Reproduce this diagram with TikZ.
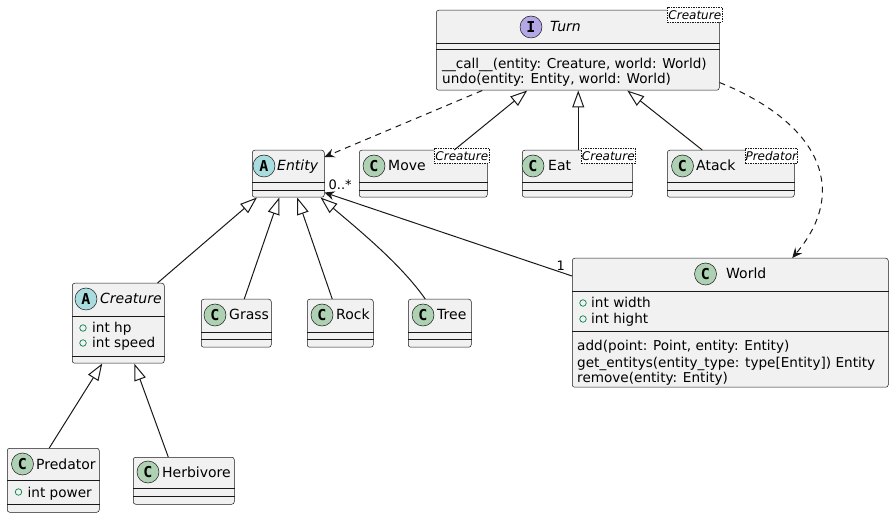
\documentclass[tikz,border=0pt]{standalone}
\usepackage{fontspec}
\setmainfont{DejaVu Sans}
\newfontfamily\spotfam{DejaVu Sans Mono}
\usetikzlibrary{arrows.meta,calc}
\definecolor{umlfill}{HTML}{F1F1F1}
\definecolor{umlline}{HTML}{181818}
\definecolor{spotC}{HTML}{ADD1B2}
\definecolor{spotA}{HTML}{A9DCDF}
\definecolor{spotI}{HTML}{B4A7E5}
\definecolor{visgreen}{HTML}{038048}
\tikzset{
 cls/.style={draw=umlline, fill=umlfill, line width=0.5pt, rounded corners=2.5pt, inner sep=0pt, anchor=north west},
 sepline/.style={draw=umlline, line width=0.5pt},
 spot/.style={circle, draw=umlline, line width=0.5pt, minimum size=22pt, inner sep=0pt, font=\spotfam\bfseries\fontsize{15}{15}\selectfont},
 title/.style={anchor=base west, inner sep=0pt, font=\fontsize{14}{16}\selectfont},
 ititle/.style={anchor=base west, inner sep=0pt, font=\fontsize{14}{16}\selectfont\itshape},
 mem/.style={anchor=base west, inner sep=0pt, font=\fontsize{13.6}{16}\selectfont},
 vis/.style={circle, draw=visgreen, line width=0.7pt, minimum size=6.5pt, inner sep=0pt},
 tmpl/.style={draw=umlline, fill=white, line width=0.6pt, dash pattern=on 1.5pt off 1pt, inner sep=0pt, anchor=north west, font=\fontsize{12}{12}\selectfont\itshape},
 edge/.style={draw=umlline, line width=1pt},
 inh/.style={edge, -{Triangle[length=17pt, width=12pt, fill=white]}},
 dep/.style={edge, dash pattern=on 6pt off 5pt, -{Stealth[length=10pt, width=9pt, inset=3.5pt]}},
 assoc/.style={edge, -{Stealth[length=10pt, width=9pt, inset=3.5pt]}},
 mult/.style={inner sep=0pt, font=\fontsize{13}{13}\selectfont},
}
\newcommand\umlsep[2]{\draw[sepline] ([yshift=-#2pt]#1.north west) -- ([yshift=-#2pt]#1.north east);}
\begin{document}
\begin{tikzpicture}[x=1pt,y=-1pt]
\useasboundingbox (0,0) rectangle (894,518);

% ---------- Turn ----------
\node[cls, minimum width=283pt, minimum height=80pt] (turn) at (436,10) {};
\umlsep{turn}{33}\umlsep{turn}{39}
\node[spot, fill=spotI] (turn-spot) at (531,27) {I};
\node[ititle] (turn-name) at (550,32) {Turn};
\node[tmpl, minimum width=55pt, minimum height=15pt] (turn-tmpl) at (667,7) {Creature};
\node[mem] (turn-m1) at (442,69) {\_\_call\_\_(entity: Creature, world: World)};
\node[mem] (turn-m2) at (442,84) {undo(entity: Entity, world: World)};

% ---------- Entity ----------
\node[cls, minimum width=72pt, minimum height=47pt] (entity) at (252,150) {};
\umlsep{entity}{32}\umlsep{entity}{40}
\node[spot, fill=spotA] (entity-spot) at (264,166) {A};
\node[ititle] (entity-name) at (277,171) {Entity};

% ---------- Move ----------
\node[cls, minimum width=128pt, minimum height=47pt] (move) at (359,150) {};
\umlsep{move}{32}\umlsep{move}{40}
\node[spot, fill=spotC] (move-spot) at (374,166) {C};
\node[title] (move-name) at (388,171) {Move};
\node[tmpl, minimum width=55pt, minimum height=15pt] (move-tmpl) at (434,148) {Creature};

% ---------- Eat ----------
\node[cls, minimum width=110pt, minimum height=47pt] (eat) at (522,150) {};
\umlsep{eat}{32}\umlsep{eat}{40}
\node[spot, fill=spotC] (eat-spot) at (533,166) {C};
\node[title] (eat-name) at (548,171) {Eat};
\node[tmpl, minimum width=54pt, minimum height=15pt] (eat-tmpl) at (581,148) {Creature};

% ---------- Atack ----------
\node[cls, minimum width=127pt, minimum height=47pt] (atack) at (667,150) {};
\umlsep{atack}{32}\umlsep{atack}{40}
\node[spot, fill=spotC] (atack-spot) at (682.5,166) {C};
\node[title] (atack-name) at (696,171) {Atack};
\node[tmpl, minimum width=52pt, minimum height=15pt] (atack-tmpl) at (745,148) {Predator};

% ---------- Creature ----------
\node[cls, minimum width=92pt, minimum height=80pt] (creature) at (72,283) {};
\umlsep{creature}{33}\umlsep{creature}{73}
\node[spot, fill=spotA] (creature-spot) at (86,299) {A};
\node[ititle] (creature-name) at (100,304) {Creature};
\node[vis] (creature-v1) at (83,328) {};
\node[mem] (creature-f1) at (92,333) {int hp};
\node[vis] (creature-v2) at (83,343) {};
\node[mem] (creature-f2) at (92,348) {int speed};

% ---------- Grass / Rock / Tree ----------
\node[cls, minimum width=70pt, minimum height=48pt] (grass) at (201,299) {};
\umlsep{grass}{33}\umlsep{grass}{40}
\node[spot, fill=spotC] (grass-spot) at (215,315) {C};
\node[title] (grass-name) at (229,320) {Grass};

\node[cls, minimum width=66pt, minimum height=48pt] (rock) at (307,299) {};
\umlsep{rock}{33}\umlsep{rock}{40}
\node[spot, fill=spotC] (rock-spot) at (322,315) {C};
\node[title] (rock-name) at (336,320) {Rock};

\node[cls, minimum width=63pt, minimum height=48pt] (tree) at (408,299) {};
\umlsep{tree}{33}\umlsep{tree}{40}
\node[spot, fill=spotC] (tree-spot) at (423,315) {C};
\node[title] (tree-name) at (437,320) {Tree};

% ---------- World ----------
\node[cls, minimum width=316pt, minimum height=129pt] (world) at (572,258) {};
\umlsep{world}{33}\umlsep{world}{73}
\node[spot, fill=spotC] (world-spot) at (705.5,274) {C};
\node[title] (world-name) at (726,279) {World};
\node[vis] (world-v1) at (583,303) {};
\node[mem] (world-f1) at (591,308) {int width};
\node[vis] (world-v2) at (583,319) {};
\node[mem] (world-f2) at (591,324) {int hight};
\node[mem] (world-m1) at (577,351) {add(point: Point, entity: Entity)};
\node[mem] (world-m2) at (577,367) {get\_entitys(entity\_type: type[Entity]) Entity};
\node[mem] (world-m3) at (577,383) {remove(entity: Entity)};

% ---------- Predator / Herbivore ----------
\node[cls, minimum width=92pt, minimum height=64pt] (predator) at (7,448) {};
\umlsep{predator}{32}\umlsep{predator}{56}
\node[spot, fill=spotC] (predator-spot) at (22.5,464) {C};
\node[title] (predator-name) at (36,469) {Predator};
\node[vis] (predator-v1) at (18.5,492) {};
\node[mem] (predator-f1) at (27.5,497) {int power};

\node[cls, minimum width=101pt, minimum height=47pt] (herbivore) at (133,457) {};
\umlsep{herbivore}{31}\umlsep{herbivore}{39}
\node[spot, fill=spotC] (herbivore-spot) at (148,472) {C};
\node[title] (herbivore-name) at (162,477) {Herbivore};

% ---------- connectors ----------
\draw[dep] ([xshift=-95.5pt]turn.south) -- ([yshift=-7pt]entity.north east);
\draw[inh] ([xshift=31pt]move.north) -- ([xshift=-50.5pt]turn.south);
\draw[inh] ([xshift=1pt]eat.north) -- ([xshift=1pt]eat.north |- turn.south);
\draw[inh] ([xshift=-28.5pt]atack.north) -- ([xshift=49.5pt]turn.south);
\draw[dep] ([yshift=8pt]turn.south east) .. controls (815,121) and (852,187) .. ([xshift=62pt]world.north);

\draw[inh] ([xshift=-7pt]creature.north east) -- ([xshift=5pt]entity.south west);
\draw[inh] ([xshift=8pt]grass.north) -- ([xshift=-9pt]entity.south);
\draw[inh] ([xshift=-8pt]rock.north) -- ([xshift=9pt]entity.south);
\draw[inh] ([xshift=-14.5pt]tree.north) .. controls (402,266) and (365,235) .. ([xshift=-4pt]entity.south east);
\draw[assoc] ([yshift=-18pt]world.north west) -- ([yshift=5pt]entity.south east);
\node[mult, anchor=base west] (mult-many) at (328.5,190) {0..*};
\node[mult, anchor=base west] (mult-one) at (556.5,271) {1};

\draw[inh] ([xshift=-4pt]predator.north) -- ([xshift=-16pt]creature.south);
\draw[inh] ([xshift=-15.5pt]herbivore.north) -- ([xshift=16pt]creature.south);
\end{tikzpicture}
\end{document}
